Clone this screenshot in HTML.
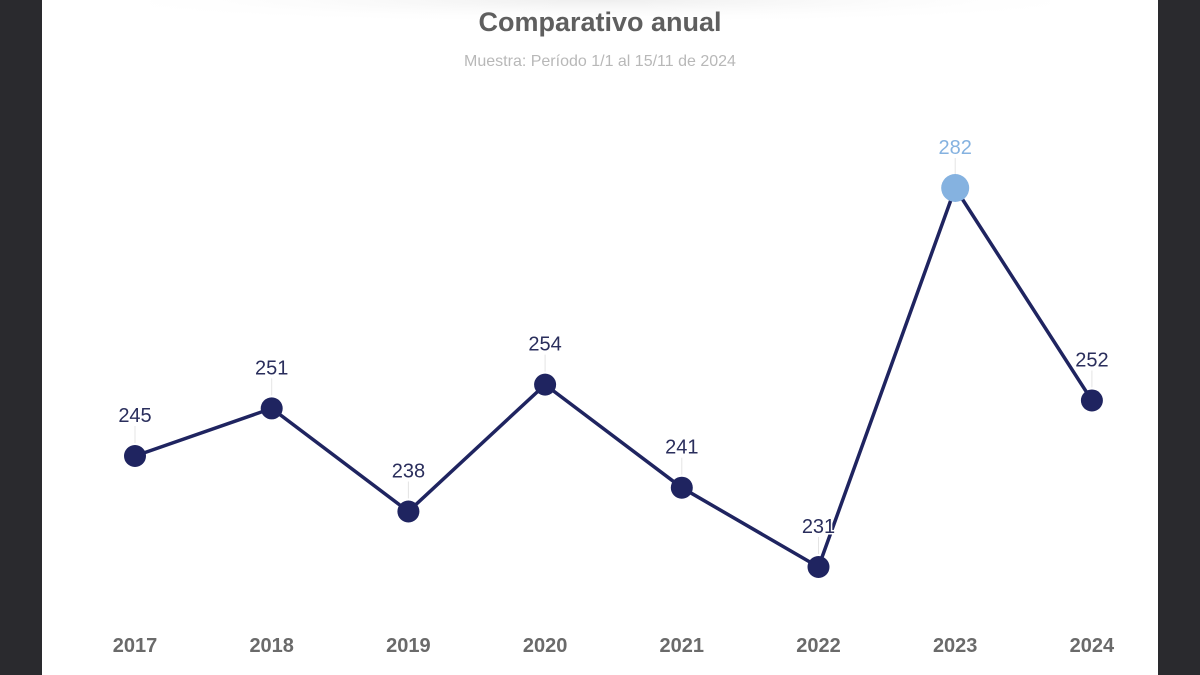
<!DOCTYPE html>
<html><head><meta charset="utf-8"><style>
html,body{margin:0;padding:0;width:1200px;height:675px;overflow:hidden;background:#2a2a2e;}
#card{position:absolute;left:42px;top:0;width:1116px;height:675px;background:#fff;}
svg{position:absolute;left:0;top:0;}
</style></head><body>
<div id="card"></div>
<svg id="chart" width="1200" height="675">
<defs><radialGradient id="sh" cx="50%" cy="0%" r="60%"><stop offset="0" stop-color="#eee"/><stop offset="1" stop-color="#fff" stop-opacity="0"/></radialGradient></defs>
<rect x="150" y="0" width="900" height="40" fill="url(#sh)"/>
<text x="600" y="31" text-anchor="middle" font-family="Liberation Sans, sans-serif" font-weight="bold" font-size="27" fill="#5f5f5f">Comparativo anual</text>
<text x="600" y="66" text-anchor="middle" font-family="Liberation Sans, sans-serif" font-size="16" fill="#b8b8b8">Muestra: Período 1/1 al 15/11 de 2024</text>
<g id="plot"></g>
</svg>
<script>
const years=["2017","2018","2019","2020","2021","2022","2023","2024"];
const values=[245,251,238,254,241,231,282,252];
const NS="http://www.w3.org/2000/svg";
const g=document.getElementById('plot');
function x(i){return 135+i*136.7;}
function y(v){return Math.max(188,567-(v-231)*7.93);}
const maxV=Math.max(...values);
function mk(t,a){const e=document.createElementNS(NS,t);for(const k in a)e.setAttribute(k,a[k]);g.appendChild(e);return e;}
let d=values.map((v,i)=>(i?'L':'M')+x(i)+','+y(v)).join(' ');
const line=mk('path',{d:d,fill:'none',stroke:'#1f2460','stroke-width':3.5,'stroke-linejoin':'round'});


values.forEach((v,i)=>{
  const isMax=v===maxV;
  const tick=mk('line',{x1:x(i),x2:x(i),y1:y(v)-13,y2:y(v)-30,stroke:'#e4e4e4','stroke-width':1});
  
  
  const c=mk('circle',{cx:x(i),cy:y(v),r:isMax?14:11,fill:isMax?'#85b2e0':'#1f2460'});
  
  
  const t=mk('text',{x:x(i),y:y(v)-34,'text-anchor':'middle','font-family':'Liberation Sans, sans-serif','font-size':20,fill:isMax?'#85b2e0':'#2a2e5c',stroke:'#fff','stroke-width':3,'paint-order':'stroke'});
  t.textContent=v;
  
  
  const yt=mk('text',{x:x(i),y:652,'text-anchor':'middle','font-family':'Liberation Sans, sans-serif','font-weight':'bold','font-size':20,fill:'#6a6a6a'});
  yt.textContent=years[i];
  
  
});
</script>
</body></html>
